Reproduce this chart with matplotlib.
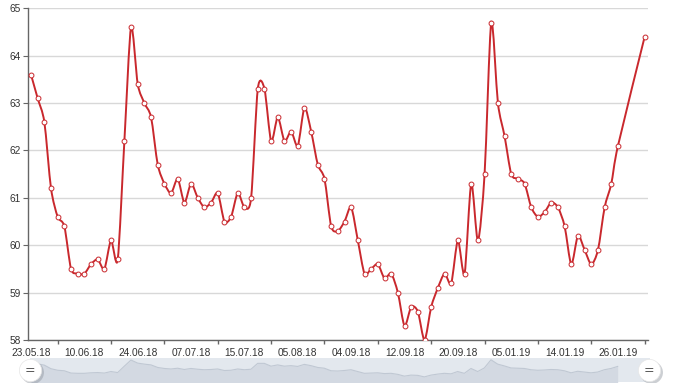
import numpy as np
import matplotlib.pyplot as plt
from matplotlib.path import Path
from matplotlib.patches import PathPatch, Rectangle

# category positions and values (indices 89-91 have no data)
idx = list(range(0, 89)) + [92]
values = [63.6, 63.1, 62.6, 61.2, 60.6, 60.4, 59.5, 59.4, 59.4, 59.6,
          59.7, 59.5, 60.1, 59.7, 62.2, 64.6, 63.4, 63.0, 62.7, 61.7,
          61.3, 61.1, 61.4, 60.9, 61.3, 61.0, 60.8, 60.9, 61.1, 60.5,
          60.6, 61.1, 60.8, 61.0, 63.3, 63.3, 62.2, 62.7, 62.2, 62.4,
          62.1, 62.9, 62.4, 61.7, 61.4, 60.4, 60.3, 60.5, 60.8, 60.1,
          59.4, 59.5, 59.6, 59.3, 59.4, 59.0, 58.3, 58.7, 58.6, 58.0,
          58.7, 59.1, 59.4, 59.2, 60.1, 59.4, 61.3, 60.1, 61.5, 64.7,
          63.0, 62.3, 61.5, 61.4, 61.3, 60.8, 60.6, 60.7, 60.9, 60.8,
          60.4, 59.6, 60.2, 59.9, 59.6, 59.9, 60.8, 61.3, 62.1, 64.4]
label_pos = list(range(0, 89, 8))
labels = ["23.05.18", "10.06.18", "24.06.18", "07.07.18", "15.07.18", "05.08.18",
          "04.09.18", "12.09.18", "20.09.18", "05.01.19", "14.01.19", "26.01.19"]

RED = "#c9282d"


def smooth_path(xs, ys, k=1.0):
    """Catmull-Rom curve through the points, as cubic bezier path."""
    pts = np.column_stack([xs, ys]).astype(float)
    verts = [pts[0]]
    codes = [Path.MOVETO]
    n = len(pts)
    for i in range(n - 1):
        p0 = pts[max(i - 1, 0)]
        p1 = pts[i]
        p2 = pts[i + 1]
        p3 = pts[min(i + 2, n - 1)]
        c1 = p1 + (p2 - p0) / 6 * k
        c2 = p2 - (p3 - p1) / 6 * k
        verts += [c1, c2, p2]
        codes += [Path.CURVE4] * 3
    return Path(verts, codes)


fig = plt.figure(figsize=(6.8, 3.83), dpi=100)
W, H = 680, 383

ax = fig.add_axes([28 / W, 1 - 340 / H, 620 / W, 331.7 / H])
ax.add_patch(PathPatch(smooth_path(idx, values, k=0.8), fill=False,
                       edgecolor=RED, lw=1.4, zorder=3))
ax.plot(idx, values, ls="none", marker="o", ms=3.5, mfc="white", mec=RED,
        mew=0.7, zorder=4)
ax.set_xlim(-0.45, 92.5)
ax.set_ylim(58, 65)
ax.set_yticks(range(58, 66))
ax.grid(axis="y", color="#d8d8d8", lw=1)
ax.set_axisbelow(True)
for s in ("top", "right"):
    ax.spines[s].set_visible(False)
for s in ("left", "bottom"):
    ax.spines[s].set_color("#666666")
    ax.spines[s].set_linewidth(1)
ax.set_xticks(label_pos)
ax.set_xticklabels(labels)
ax.set_xticks(range(4, 93, 8), minor=True)
ax.tick_params(axis="x", which="major", length=0, pad=5.5, labelsize=7.3,
               labelcolor="#333333")
ax.tick_params(axis="x", which="minor", length=3, color="#666666", width=1)
ax.tick_params(axis="y", length=3.5, pad=1.5, labelsize=7.3, color="#666666",
               labelcolor="#333333")
for t in ax.get_xticklabels() + ax.get_yticklabels():
    t.set_family("Liberation Sans")

# scrollbar with preview of the series
sb = fig.add_axes([30 / W, 1 - 382 / H, 620 / W, 24 / H])
sb.add_patch(Rectangle((0, 0), 1, 1, transform=sb.transAxes, color="#e3e8ee",
                       zorder=0))
pv_x = idx[:-1]
pv_y = values[:-1]
sb.fill_between(pv_x, pv_y, 50, color="#d3d9e2", lw=0, zorder=1)
sb.plot(pv_x, pv_y, color="#c0c8d3", lw=0.8, zorder=2)
sb.set_xlim(-0.15, 92.85)
sb.set_ylim(56.0, 65.4)
sb.axis("off")

# scrollbar grips
ov = fig.add_axes([0, 0, 1, 1])
ov.set_xlim(0, W)
ov.set_ylim(H, 0)
ov.axis("off")
for gx in (30, 649):
    ov.plot(gx + 1.5, 372, marker="o", ms=16.5, mfc="#8f959e", mec="none",
            alpha=0.45, zorder=5)
    ov.plot(gx, 370, marker="o", ms=16, mfc="white", mec="#e6e6e6",
            mew=0.5, zorder=6)
    ov.text(gx, 370.5, "=", ha="center", va="center", fontsize=9,
            color="#555555", zorder=7, family="DejaVu Sans")

fig.savefig("out.png", dpi=100)
